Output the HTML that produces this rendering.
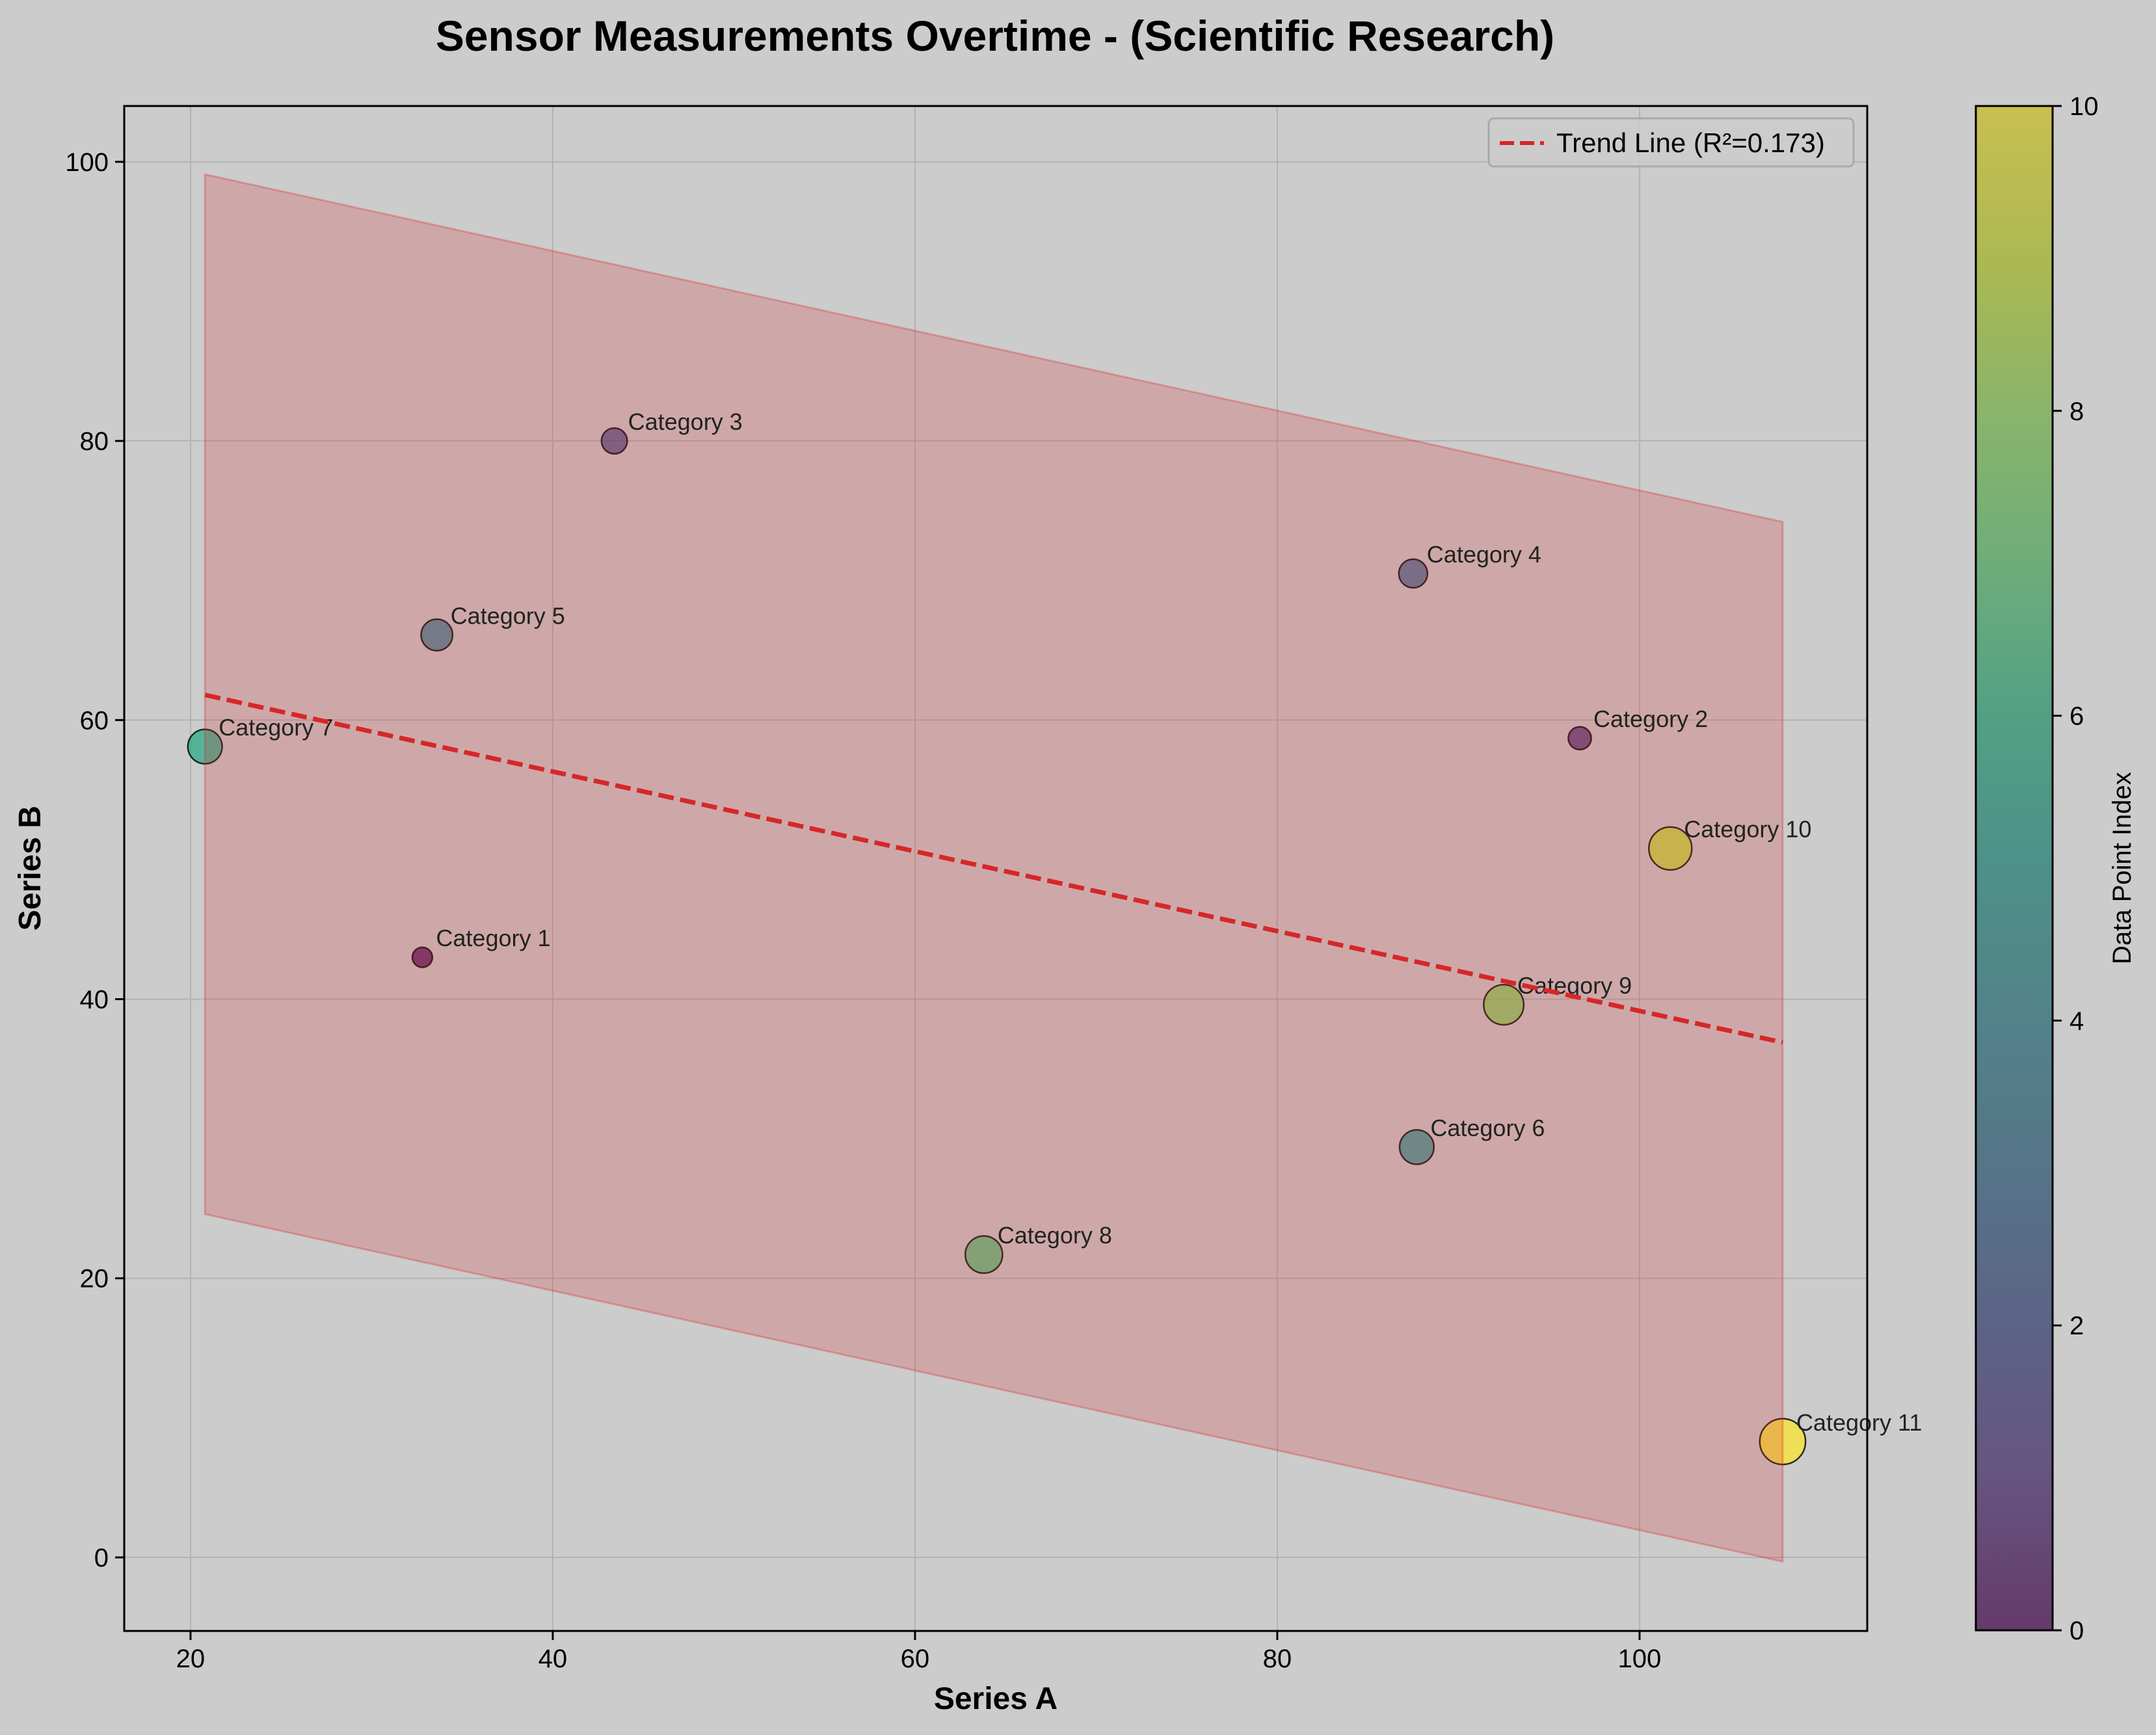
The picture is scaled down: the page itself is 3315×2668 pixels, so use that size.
<!DOCTYPE html>
<html><head><meta charset="utf-8">
<style>
html,body{margin:0;padding:0;background:#cccccc;}
svg{display:block;font-family:"Liberation Sans",Arial,sans-serif;}
</style></head>
<body>
<svg id="chart" width="3315" height="2668" viewBox="0 0 3315 2668" xmlns="http://www.w3.org/2000/svg">
<defs>
<linearGradient id="vir" x1="0" y1="1" x2="0" y2="0">
<stop offset="0" stop-color="#653a6a"/><stop offset="0.1" stop-color="#66547f"/><stop offset="0.2" stop-color="#5c6386"/><stop offset="0.3" stop-color="#567488"/><stop offset="0.4" stop-color="#52828a"/><stop offset="0.5" stop-color="#4e9088"/><stop offset="0.6" stop-color="#52a084"/><stop offset="0.7" stop-color="#6ead7a"/><stop offset="0.8" stop-color="#8ab46a"/><stop offset="0.9" stop-color="#acb952"/><stop offset="1" stop-color="#c9bf50"/>
</linearGradient>
<clipPath id="plotclip"><rect x="191" y="163" width="2680" height="2345"/></clipPath>
</defs>
<text x="1530" y="78" font-size="66" font-weight="bold" text-anchor="middle">Sensor Measurements Overtime - (Scientific Research)</text>
<g id="grid"></g>
<g id="points"></g>
<g id="band" clip-path="url(#plotclip)"></g>
<g id="labels"></g>
<g id="trend" clip-path="url(#plotclip)"></g>
<g id="axes"></g>
<rect x="191" y="163" width="2680" height="2345" fill="none" stroke="#000" stroke-width="3"/>
<g>
<rect x="2289" y="182" width="561" height="74" rx="8" fill="#cccccc" fill-opacity="0.8" stroke="#aaaaaa" stroke-width="3"/>
<line x1="2306" y1="220" x2="2374" y2="220" stroke="#d62728" stroke-width="6" stroke-dasharray="22,9"/>
<text x="2393" y="234" font-size="42">Trend Line (R²=0.173)</text>
</g>
<text x="1531" y="2628" font-size="48" font-weight="bold" text-anchor="middle">Series A</text>
<text transform="translate(62,1335) rotate(-90)" font-size="48" font-weight="bold" text-anchor="middle">Series B</text>
<g id="cbar">
<rect x="3038" y="163" width="118" height="2344" fill="url(#vir)"/>
<rect x="3038" y="163" width="118" height="2344" fill="none" stroke="#000" stroke-width="3"/>
<text transform="translate(3276,1335) rotate(-90)" font-size="40" text-anchor="middle">Data Point Index</text>
</g>
</svg>
<script>
const NS='http://www.w3.org/2000/svg';
const categories=['Category 1','Category 2','Category 3','Category 4','Category 5','Category 6','Category 7','Category 8','Category 9','Category 10','Category 11'];
const seriesA=[32.8,96.7,43.4,87.5,33.6,87.7,20.8,63.8,92.5,101.7,107.9];
const seriesB=[43.0,58.7,80.0,70.5,66.1,29.4,58.1,21.7,39.6,50.8,8.3];
const sizes=[7,8,9,10,11,12,12,13,14,15,16];
const xTicks=[20,40,60,80,100];
const yTicks=[0,20,40,60,80,100];
const cbTicks=[0,2,4,6,8,10];
const trendX=[20.8,107.9];
const trendY=[61.8,36.9];
const bandUpper=[99.1,74.2];
const bandLower=[24.6,-0.3];

const X0=191,X1=2871,Y0=2508,Y1=163;
const xMin=16.34,xMax=112.57,yMin=-5.27,yMax=104.0;
function sx(v){return X0+(v-xMin)/(xMax-xMin)*(X1-X0);}
function sy(v){return Y0-(v-yMin)/(yMax-yMin)*(Y0-Y1);}
function cy(v){return 2507-v/10*(2507-163);}
const vir=['#440154','#482475','#414487','#355f8d','#2a788e','#21918c','#22a884','#44bf70','#7ad151','#bddf26','#fde725'];
function mk(tag,attrs,parent){const e=document.createElementNS(NS,tag);for(const k in attrs)e.setAttribute(k,attrs[k]);parent.appendChild(e);return e;}

const grid=document.getElementById('grid'),axes=document.getElementById('axes');
xTicks.forEach(t=>{
  const x=sx(t);
  const g=mk('line',{x1:x,y1:Y1,x2:x,y2:Y0,stroke:'#b3b3b3','stroke-width':2},grid);
  
  
  const tk=mk('line',{x1:x,y1:Y0,x2:x,y2:Y0+14,stroke:'#000','stroke-width':3},axes);
  
  
  const tl=mk('text',{x:x,y:Y0+56,'font-size':40,'text-anchor':'middle'},axes);
  tl.textContent=t;
  
  
});
yTicks.forEach(t=>{
  const y=sy(t);
  const g=mk('line',{x1:X0,y1:y,x2:X1,y2:y,stroke:'#b3b3b3','stroke-width':2},grid);
  
  
  const tk=mk('line',{x1:X0-14,y1:y,x2:X0,y2:y,stroke:'#000','stroke-width':3},axes);
  
  
  const tl=mk('text',{x:X0-24,y:y+14,'font-size':40,'text-anchor':'end'},axes);
  tl.textContent=t;
  
  
});
const pts=document.getElementById('points'),lbls=document.getElementById('labels');
categories.forEach((c,i)=>{
  const x=sx(seriesA[i]),y=sy(seriesB[i]);
  const r=sizes[i]*2.2;
  const p=mk('circle',{cx:x,cy:y,r:r,fill:vir[i],'fill-opacity':0.7,stroke:'#000','stroke-width':2.5,'stroke-opacity':0.8},pts);
  
  
  const t=mk('text',{x:x+21,y:y-17,'font-size':36,fill:'#222'},lbls);
  t.textContent=c;
  
  
});
const band=document.getElementById('band');
const bp=mk('polygon',{points:`${sx(trendX[0])},${sy(bandUpper[0])} ${sx(trendX[1])},${sy(bandUpper[1])} ${sx(trendX[1])},${sy(bandLower[1])} ${sx(trendX[0])},${sy(bandLower[0])}`,fill:'#d62728','fill-opacity':0.22,stroke:'#d62728','stroke-opacity':0.3,'stroke-width':3},band);


const tr=document.getElementById('trend');
const tl=mk('line',{x1:sx(trendX[0]),y1:sy(trendY[0]),x2:sx(trendX[1]),y2:sy(trendY[1]),stroke:'#d62728','stroke-width':7,'stroke-dasharray':'24,10'},tr);


const cb=document.getElementById('cbar');
cbTicks.forEach(t=>{
  const y=cy(t);
  const k=mk('line',{x1:3156,y1:y,x2:3170,y2:y,stroke:'#000','stroke-width':3},cb);
  
  
  const l=mk('text',{x:3182,y:y+14,'font-size':40},cb);
  l.textContent=t;
  
  
});
</script>
</body></html>
